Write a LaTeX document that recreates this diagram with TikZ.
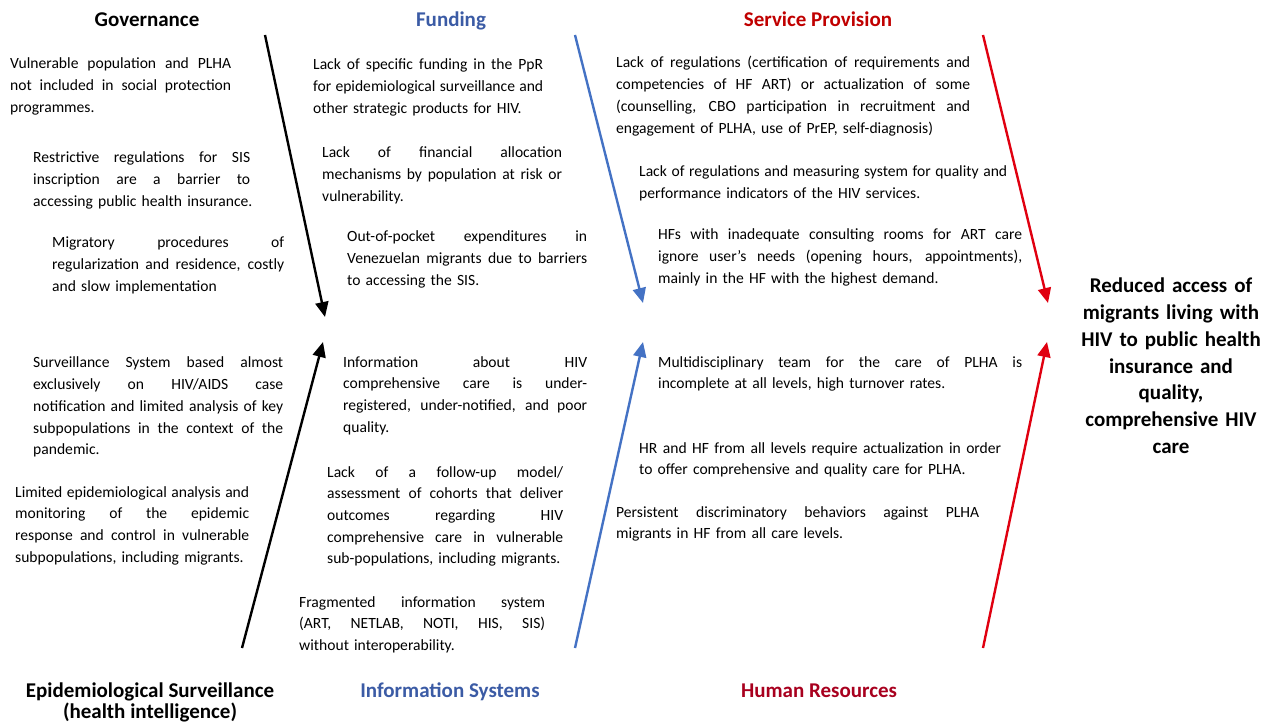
\documentclass[tikz,border=0pt]{standalone}
\usepackage{fontspec}
\setmainfont{Carlito}
\usetikzlibrary{arrows.meta}

\definecolor{fundblue}{HTML}{3B5BA5}
\definecolor{boneblue}{HTML}{4472C4}
\definecolor{servred}{HTML}{C00000}
\definecolor{bonered}{HTML}{E00010}
\definecolor{hrred}{HTML}{A8001E}

% one justified line, and one last (ragged) line
\newcommand{\jline}[1]{\makebox[\hsize][s]{\spaceskip=.2em plus 1fil\relax #1}\\}
\newcommand{\lline}[1]{\mbox{#1}}

\begin{document}
\begin{tikzpicture}[
  x=1pt, y=-1pt,
  cause/.style={anchor=base west, inner sep=0pt, align=left,
                font=\fontsize{15.6}{21.7}\selectfont},
  head/.style={anchor=base, inner sep=0pt, align=center,
               font=\fontsize{21}{22}\selectfont\bfseries},
  effect/.style={anchor=base, inner sep=0pt, align=center, text width=210pt,
                 font=\fontsize{21}{26.7}\selectfont\bfseries},
  bone/.style={line width=2.4pt, -{Triangle[length=15pt, width=13pt]}},
]
\useasboundingbox (0,0) rectangle (1275,727);

% ── the six branch titles ─────────────────────────────────────────────────
\node[head] (govhead)  at (147,27) {Governance};
\node[head, text=fundblue] (fundhead) at (451,27) {Funding};
\node[head, text=servred]  (servhead) at (818,27) {Service Provision};
% two lines: the base anchor sits on the last one
\node[head, font=\fontsize{21}{21}\selectfont\bfseries] (epihead) at (150,718)
  {Epidemiological Surveillance\\(health intelligence)};
\node[head, text=fundblue] (infohead) at (450,697) {Information Systems};
\node[head, text=hrred]    (hrhead)   at (819,697) {Human Resources};

% ── the effect, at the head of the fish ───────────────────────────────────
\node[effect] (effect) at (1171,293)
  {Reduced access of\\migrants living with\\HIV to public health\\insurance and\\quality,\\comprehensive HIV\\care};

% ── Governance ────────────────────────────────────────────────────────────
\node[cause, text width=221pt] (gov1) at (10,69)
  {\jline{Vulnerable population and PLHA}\jline{not included in social protection}\lline{programmes.}};
\node[cause, text width=217pt] (gov2) at (33,163)
  {\jline{Restrictive regulations for SIS}\jline{inscription are a barrier to}\lline{accessing public health insurance.}};
\node[cause, text width=232pt] (gov3) at (52,248)
  {\jline{Migratory procedures of}\jline{regularization and residence, costly}\lline{and slow implementation}};

% ── Funding ───────────────────────────────────────────────────────────────
\node[cause, text width=230pt] (fund1) at (313,70)
  {\jline{Lack of specific funding in the PpR}\jline{for epidemiological surveillance and}\lline{other strategic products for HIV.}};
\node[cause, text width=240pt] (fund2) at (322,158)
  {\jline{Lack of financial allocation}\jline{mechanisms by population at risk or}\lline{vulnerability.}};
\node[cause, text width=240pt] (fund3) at (347,242)
  {\jline{Out-of-pocket expenditures in}\jline{Venezuelan migrants due to barriers}\lline{to accessing the SIS.}};

% ── Service Provision ─────────────────────────────────────────────────────
\node[cause, text width=354pt] (serv1) at (616,68)
  {\jline{Lack of regulations (certification of requirements and}\jline{competencies of HF ART) or actualization of some}\jline{(counselling, CBO participation in recruitment and}\lline{engagement of PLHA, use of PrEP, self-diagnosis)}};
\node[cause, text width=368pt] (serv2) at (639,177)
  {\jline{Lack of regulations and measuring system for quality and}\lline{performance indicators of the HIV services.}};
\node[cause, text width=364pt] (serv3) at (658,240)
  {\jline{HFs with inadequate consulting rooms for ART care}\jline{ignore user's needs (opening hours, appointments),}\lline{mainly in the HF with the highest demand.}};

% ── Epidemiological Surveillance ──────────────────────────────────────────
\node[cause, text width=250pt] (epi1) at (33,368)
  {\jline{Surveillance System based almost}\jline{exclusively on HIV/AIDS case}\jline{notification and limited analysis of key}\jline{subpopulations in the context of the}\lline{pandemic.}};
\node[cause, text width=234pt] (epi2) at (15,497)
  {\jline{Limited epidemiological analysis and}\jline{monitoring of the epidemic}\jline{response and control in vulnerable}\lline{subpopulations, including migrants.}};

% ── Information Systems ───────────────────────────────────────────────────
\node[cause, text width=244pt] (info1) at (343,367)
  {\jline{Information about HIV}\jline{comprehensive care is under-}\jline{registered, under-notified, and poor}\lline{quality.}};
\node[cause, text width=236pt] (info2) at (327,477)
  {\jline{Lack of a follow-up model/}\jline{assessment of cohorts that deliver}\jline{outcomes regarding HIV}\jline{comprehensive care in vulnerable}\lline{sub-populations, including migrants.}};
\node[cause, text width=246pt] (info3) at (299,607)
  {\jline{Fragmented information system}\jline{(ART, NETLAB, NOTI, HIS, SIS)}\lline{without interoperability.}};

% ── Human Resources ───────────────────────────────────────────────────────
\node[cause, text width=364pt] (hr1) at (658,367)
  {\jline{Multidisciplinary team for the care of PLHA is}\lline{incomplete at all levels, high turnover rates.}};
\node[cause, text width=362pt] (hr2) at (639,453)
  {\jline{HR and HF from all levels require actualization in order}\lline{to offer comprehensive and quality care for PLHA.}};
\node[cause, text width=363pt] (hr3) at (616,517)
  {\jline{Persistent discriminatory behaviors against PLHA}\lline{migrants in HF from all care levels.}};

% ── the bones: tails at the titles, tips at the spine ─────────────────────
\coordinate (govtail)  at (265,35);  \coordinate (govtip)  at (325,317);
\coordinate (epitail)  at (242,648); \coordinate (epitip)  at (323,342);
\coordinate (fundtail) at (575,35);  \coordinate (fundtip) at (643,303);
\coordinate (infotail) at (575,648); \coordinate (infotip) at (643,342);
\coordinate (servtail) at (983,35);  \coordinate (servtip) at (1048,303);
\coordinate (hrtail)   at (983,648); \coordinate (hrtip)   at (1047,342);

\draw[bone] (govtail) -- (govtip);
\draw[bone] (epitail) -- (epitip);
\draw[bone, draw=boneblue, fill=boneblue] (fundtail) -- (fundtip);
\draw[bone, draw=boneblue, fill=boneblue] (infotail) -- (infotip);
\draw[bone, draw=bonered, fill=bonered] (servtail) -- (servtip);
\draw[bone, draw=bonered, fill=bonered] (hrtail) -- (hrtip);

\end{tikzpicture}
\end{document}
